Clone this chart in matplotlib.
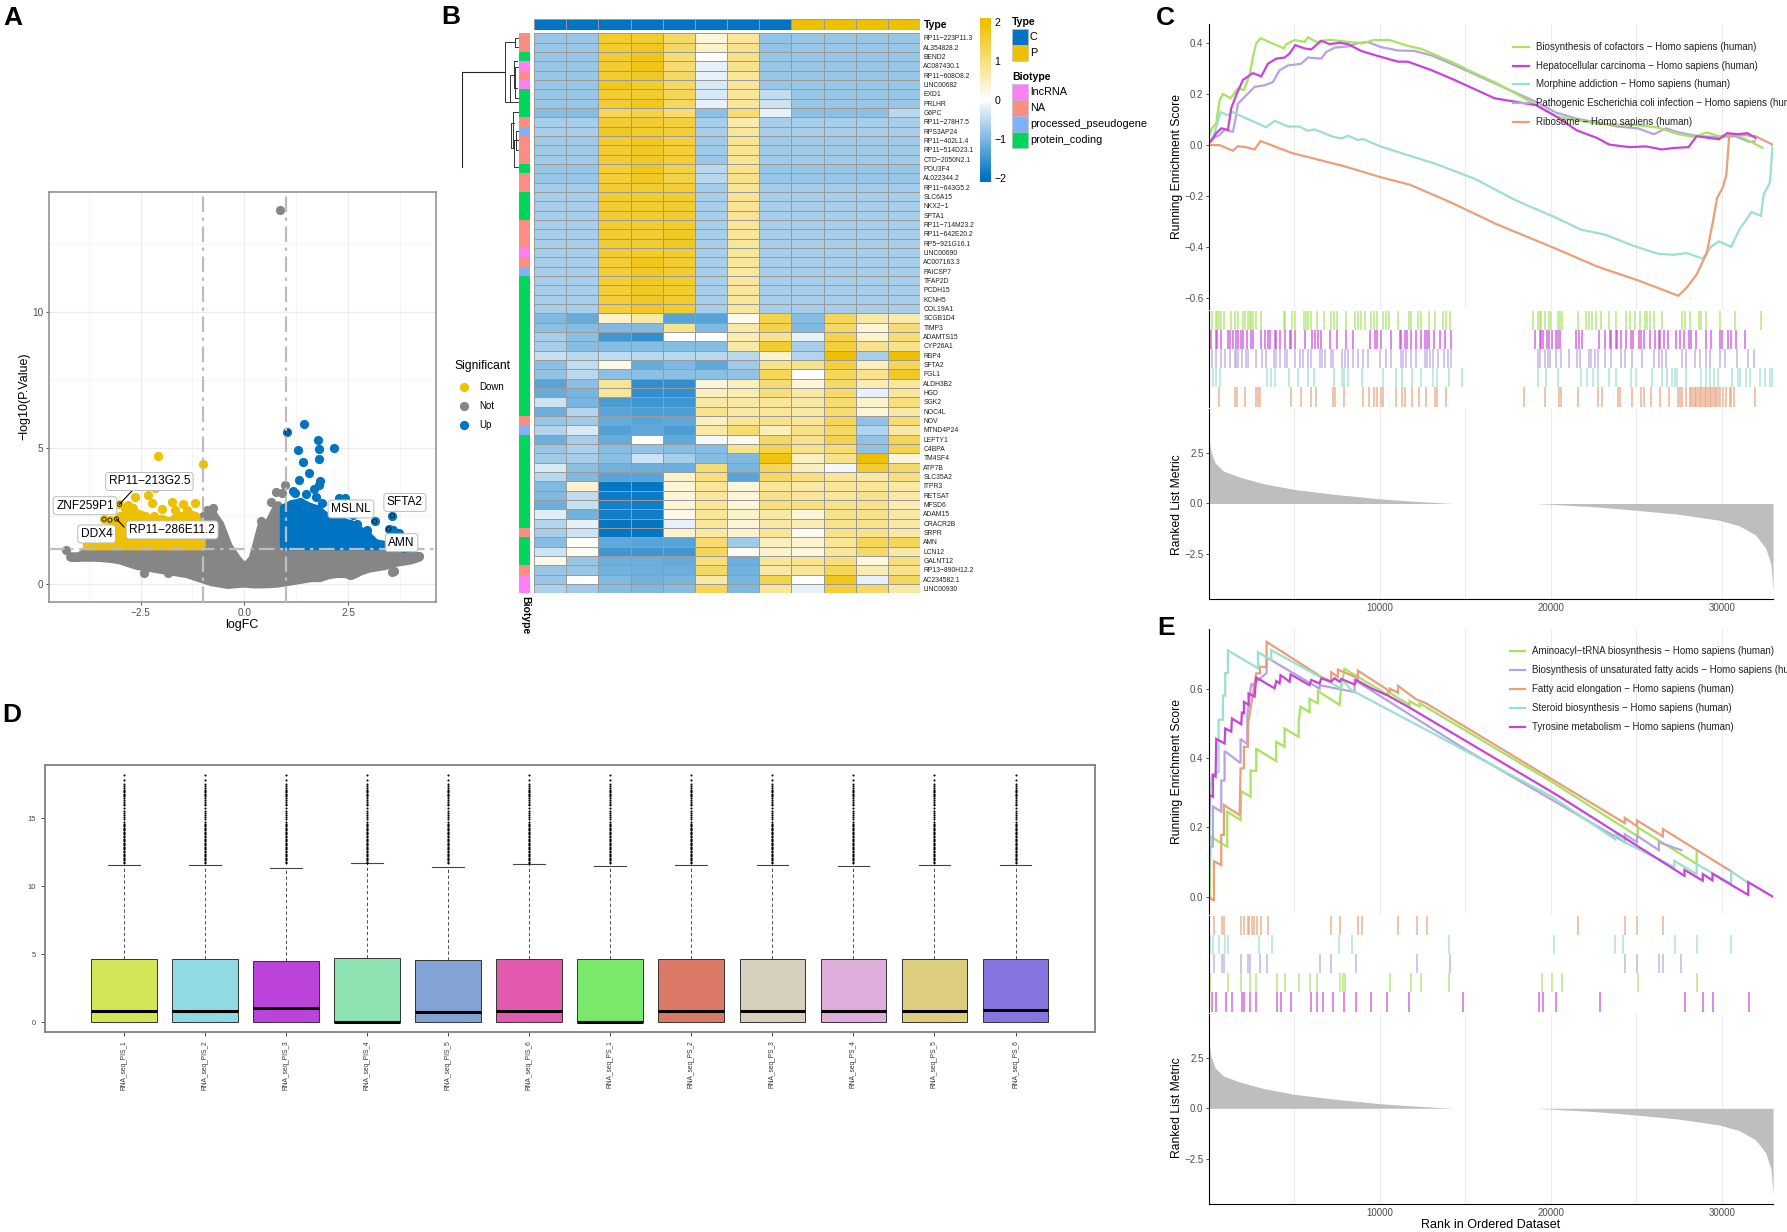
import numpy as np
import matplotlib
matplotlib.use('Agg')
import matplotlib.pyplot as plt
from matplotlib.colors import LinearSegmentedColormap, ListedColormap
from matplotlib.patches import Rectangle

plt.rcParams['font.family'] = ['Liberation Sans', 'DejaVu Sans']

W, H = 1787, 1232
JCO_GOLD, JCO_BLUE, JCO_GREY = '#EFC000', '#0073C2', '#868686'

# ---------- panel A: volcano ----------
# the packed clouds are kept as read envelopes, loose points one by one
grey_x = [-4.2, -4.0, -3.8, -3.6, -3.4, -3.2, -3.0, -2.8, -2.6, -2.4, -2.2, -2.0, -1.8, -1.6, -1.4, -1.2, -1.0, -0.8,
          -0.6, -0.4, -0.2, 0.0, 0.2, 0.4, 0.6, 0.8, 1.0, 1.2, 1.4, 1.6, 1.8, 2.0, 2.2, 2.4, 2.6, 2.8, 3.0, 3.2, 3.4,
          3.6, 3.8, 4.0, 4.2]
grey_low = [1.0, 1.0, 1.0, 1.0, 0.98, 0.95, 0.9, 0.8, 0.7, 0.65, 0.6, 0.55, 0.5, 0.45, 0.4, 0.3, 0.2, 0.1,
            0.05, 0.0, 0.03, 0.05, 0.02, 0.02, 0.03, 0.05, 0.1, 0.15, 0.2, 0.25, 0.25, 0.35, 0.4, 0.4, 0.35, 0.5, 0.6,
            0.65, 0.7, 0.8, 0.85, 0.9, 1.0]
grey_high = [1.02, 1.02, 1.2, 1.2, 1.2, 1.2, 1.2, 1.2, 1.2, 1.2, 1.2, 1.2, 1.2, 1.2, 1.2, 1.2, 2.5, 2.65,
             2.2, 1.4, 0.95, 0.6, 0.95, 2.1, 2.3, 2.9, 1.2, 1.2, 1.2, 1.2, 1.2, 1.2, 1.2, 1.2, 1.2, 1.2, 1.2,
             1.2, 1.2, 1.2, 1.1, 1.05, 1.03]
grey_pts_x = [0.86, -4.3, -2.41, 3.55, 3.6, 2.55, -1.83, 0.64, 0.76, 0.98, 0.92, 0.39, -0.75, -0.91, 4.2]
grey_pts_y = [13.74, 1.24, 0.39, 0.45, 0.47, 0.33, 0.39, 3.03, 3.37, 3.64, 3.33, 2.33, 2.78, 2.72, 1.03]

down_x = [-3.8, -3.6, -3.4, -3.2, -3.0, -2.8, -2.6, -2.4, -2.2, -2.0, -1.8, -1.6, -1.4, -1.2, -1.05]
down_high = [1.45, 1.6, 2.0, 2.1, 2.4, 2.6, 2.6, 2.5, 2.3, 2.4, 2.3, 2.5, 2.5, 2.5, 2.1]
down_pts_x = [-2.08, -1.0, -2.64, -2.32, -2.15, -2.23, -2.81, -2.68, -1.74, -1.47, -1.19, -2.17, -1.98, -1.66, -1.39,
              -1.27, -2.58, -3.0, -3.38, -3.24, -3.08, -3.01, -2.88]
down_pts_y = [4.72, 4.41, 3.19, 3.27, 3.52, 2.97, 2.9, 2.78, 3.03, 2.93, 2.97, 2.5, 2.75, 2.72, 2.72,
              2.54, 2.51, 2.51, 2.38, 2.35, 2.39, 2.93, 2.78]

up_x = [0.95, 1.15, 1.35, 1.55, 1.75, 1.95, 2.15, 2.35, 2.55, 2.75, 2.95, 3.15, 3.35]
up_high = [2.8, 2.95, 3.0, 2.85, 2.75, 2.5, 2.4, 2.3, 2.2, 2.0, 1.8, 1.5, 1.45]
up_pts_x = [1.45, 1.04, 1.78, 1.79, 1.29, 2.17, 1.8, 1.41, 1.55, 1.31, 1.82, 1.8, 1.69, 1.17, 1.22, 1.48, 1.73, 2.27,
            2.43, 1.88, 3.14, 3.57, 3.48, 3.59, 3.74, 2.63, 2.71, 2.95, 3.85]
up_pts_y = [5.89, 5.58, 5.28, 4.95, 4.91, 4.99, 4.58, 4.47, 4.09, 3.82, 3.79, 3.64, 3.5, 3.42, 3.36, 3.3, 3.19, 3.15,
            3.15, 2.97, 2.3, 2.51, 2.02, 1.99, 1.89, 2.54, 2.21, 1.99, 1.31]
low_cut = 1.42

ring_x = [-3.38, -3.24, -3.08, -3.01, 3.14, 3.57, 3.48, 1.04]
ring_y = [2.38, 2.35, 2.39, 2.93, 2.3, 2.51, 2.02, 5.58]
gene_names = ['RP11−213G2.5', 'ZNF259P1', 'DDX4', 'RP11−286E11.2', 'MSLNL', 'SFTA2', 'AMN']
gene_x = [-2.29, -3.84, -3.56, -1.74, 2.57, 3.87, 3.79]
gene_y = [3.77, 2.88, 1.84, 1.99, 2.76, 3.0, 1.52]

# ---------- panel B: heatmap ----------
row_names = ['RP11−223P11.3', 'AL354828.2', 'BEND2', 'AC087430.1', 'RP11−608O8.2', 'LINC00682', 'EXD1', 'PRLHR', 'G6PC',
             'RP11−278H7.5', 'RPS3AP24', 'RP11−402L1.4', 'RP11−514D23.1', 'CTD−2050N2.1', 'POU3F4', 'AL022344.2',
             'RP11−643G5.2', 'SLC6A15', 'NKX2−1', 'SPTA1', 'RP11−714M23.2', 'RP11−642E20.2', 'RP5−921G16.1',
             'LINC00690', 'AC007163.3', 'PAICSP7', 'TFAP2D', 'PCDH15', 'KCNH5', 'COL19A1', 'SCGB1D4', 'TIMP3',
             'ADAMTS15', 'CYP26A1', 'RBP4', 'SFTA2', 'FGL1', 'ALDH3B2', 'HGD', 'SGK2', 'NOC4L', 'NOV', 'MTND4P24',
             'LEFTY1', 'C4BPA', 'TM4SF4', 'ATP7B', 'SLC35A2', 'ITPR3', 'RETSAT', 'MFSD6', 'ADAM15', 'CRACR2B', 'SRPR',
             'AMN', 'LCN12', 'GALNT12', 'RP13−890H12.2', 'AC234582.1', 'LINC00930']
heat_values = [
    [-.8, -.8, 1.65, 1.65, 1.2, .3, .8, -.85, -.8, -.8, -.8, -.8],
    [-.8, -.8, 1.65, 1.75, 1.2, .4, .9, -.85, -.8, -.8, -.8, -.8],
    [-.8, -.8, 1.6, 1.8, 1.1, 0, .95, -.8, -.8, -.8, -.8, -.8],
    [-.8, -.8, 1.6, 1.8, 1.1, -.2, .9, -.8, -.8, -.8, -.8, -.8],
    [-.8, -.8, 1.65, 1.7, 1.2, -.2, .8, -.8, -.8, -.8, -.8, -.8],
    [-.8, -.8, 1.75, 1.65, 1.2, -.3, .8, -.8, -.8, -.8, -.8, -.8],
    [-.8, -.8, 1.6, 1.65, 1.3, -.3, .8, -.5, -.8, -.8, -.8, -.8],
    [-.8, -.8, 1.6, 1.75, 1.25, -.2, .8, -.4, -.8, -.8, -.8, -.8],
    [-.95, -.95, 1.3, 1.4, 1.1, -.9, 1.1, -.2, -.9, -.9, -.9, -.55],
    [-.7, -.7, 1.6, 1.6, 1.5, -.7, .65, -.7, -.7, -.7, -.7, -.7],
    [-.7, -.7, 1.7, 1.65, 1.55, -.7, .8, -.7, -.7, -.7, -.7, -.7],
    [-.75, -.75, 1.6, 1.7, 1.5, -.75, .85, -.75, -.75, -.75, -.75, -.75],
    [-.75, -.75, 1.6, 1.7, 1.55, -.75, .85, -.75, -.75, -.75, -.75, -.75],
    [-.75, -.75, 1.6, 1.7, 1.55, -.8, .85, -.75, -.75, -.75, -.75, -.75],
    [-.8, -.8, 1.55, 1.75, 1.45, -.55, .9, -.8, -.8, -.8, -.8, -.8],
    [-.8, -.8, 1.55, 1.7, 1.45, -.55, .9, -.8, -.8, -.8, -.8, -.8],
    [-.72, -.72, 1.6, 1.65, 1.55, -.72, .85, -.72, -.72, -.72, -.72, -.72],
    [-.7, -.7, 1.6, 1.65, 1.6, -.7, .85, -.7, -.7, -.7, -.7, -.7],
    [-.7, -.7, 1.6, 1.65, 1.6, -.7, .85, -.7, -.7, -.7, -.7, -.7],
    [-.7, -.7, 1.6, 1.65, 1.6, -.7, .85, -.7, -.7, -.7, -.7, -.7],
    [-.7, -.7, 1.6, 1.6, 1.65, -.7, .8, -.7, -.7, -.7, -.7, -.7],
    [-.7, -.7, 1.6, 1.6, 1.7, -.7, .8, -.7, -.7, -.7, -.7, -.7],
    [-.7, -.7, 1.6, 1.6, 1.7, -.7, .8, -.7, -.7, -.7, -.7, -.7],
    [-.7, -.7, 1.6, 1.65, 1.6, -.7, .75, -.7, -.7, -.7, -.7, -.7],
    [-.7, -.7, 1.55, 1.75, 1.6, -.7, .75, -.7, -.7, -.7, -.7, -.7],
    [-.7, -.7, 1.55, 1.7, 1.6, -.7, .75, -.7, -.7, -.7, -.7, -.7],
    [-.7, -.7, 1.55, 1.7, 1.65, -.7, .75, -.7, -.7, -.7, -.7, -.7],
    [-.7, -.7, 1.55, 1.7, 1.65, -.7, .75, -.7, -.7, -.7, -.7, -.7],
    [-.7, -.7, 1.55, 1.7, 1.65, -.7, .75, -.7, -.7, -.7, -.7, -.7],
    [-.7, -.7, 1.55, 1.7, 1.65, -.7, .75, -.7, -.7, -.7, -.7, -.7],
    [-1.0, -1.2, .4, .7, -1.3, -1.3, .15, 1.4, -.95, 1.3, .7, .65],
    [-.9, -.95, -1.0, -1.0, .9, -1.0, .7, 1.4, -1.0, 1.2, .3, 1.1],
    [-.7, -.9, -1.5, -1.6, 0, 0, .6, .9, -.2, 1.4, .4, 1.1],
    [-.7, -.95, -.95, -.95, -.95, -.95, .7, 1.65, -.7, 1.5, .9, .9],
    [-.45, -.55, -.5, -.55, -.55, -.55, -.55, .4, -.6, 2, -.7, 2],
    [-.9, -.5, .2, -1.2, -1, -1.25, -.75, .9, .9, 1.5, .5, 1.3],
    [-.85, -.55, -.9, -.9, -.9, -.9, -.85, 1.3, 0, 1.3, .9, 1.7],
    [-1.3, -.9, .85, -1.6, -1.6, .3, .5, 1.1, .3, 1.2, .6, .8],
    [-1.2, -1.05, .8, -1.6, -1.6, .5, .6, 1, .7, 1.15, -.2, .8],
    [-.4, -1.05, -1.4, -1.5, -1.5, .7, .7, .8, .7, 1.1, .4, 1.0],
    [-1.15, -.6, -1.3, -1.4, -1.4, .9, .7, .8, .7, 1.1, .3, .7],
    [-.8, -.75, -1.2, -1.3, -1.25, .5, .8, .9, .8, 1.3, -.85, 1.1],
    [-.6, -.3, -1.35, -1.25, -1.4, .7, 1.1, .5, .9, 1.2, -.6, .7],
    [-1.15, -.7, -1.2, 0, -1.25, -.1, .15, 1.2, .9, 1.4, -.85, 1.3],
    [-.8, -.65, -.95, -.85, -.95, -.95, .9, 1.4, .9, 1.1, -.85, 1.4],
    [-.75, -.7, -.9, -.4, -.7, -.95, -1, 1.9, .5, .9, 2, .3],
    [-.3, -.9, -1.1, -1.15, -1.15, 1.1, -1.05, 1.3, .5, -.1, 1.6, 1.2],
    [-.55, -1, -1.3, -1.3, .4, 1, -1.3, 1.2, 1.0, .8, .7, 1],
    [-1, .4, -1.95, -1.95, .3, .8, .3, .8, .7, .8, .8, .7],
    [-1, -.5, -1.9, -1.9, .3, .8, .3, .9, .8, .8, .9, .7],
    [-1.15, -.45, -1.8, -1.85, .3, .8, .3, 1, 1, .9, .9, .6],
    [-.25, -1.1, -1.85, -1.85, .2, .8, .4, .7, .3, .9, .9, .7],
    [-.6, -.2, -1.95, -1.95, -.2, .8, .3, .7, .6, .9, .9, .7],
    [-.7, -.4, -1.95, -1.95, .4, .7, .4, .8, .1, .9, .9, .7],
    [-.95, .03, -1.25, -1.3, -1.3, 1.1, -.75, .5, .4, .8, 1.3, 1.3],
    [-.4, .1, -1.5, -1.5, -1.5, 1.3, .1, .4, .25, .8, 1.2, .7],
    [.2, -.8, -1.15, -1.15, -1.2, 1, -1.15, .8, .9, 1, .25, 1],
    [-.8, -.8, -1.1, -1.15, -1.15, 1.2, -1.1, .7, .8, 1.3, .6, .9],
    [-.8, 0, -1, -1.1, -1.05, .7, -1.05, 1.4, 0, 1.8, -.2, 1.3],
    [-.65, -.75, -.95, -1, -.95, 1.3, -1, .8, -.2, 1.5, 1.2, .7],
]
col_types = ['C', 'C', 'C', 'C', 'C', 'C', 'C', 'C', 'P', 'P', 'P', 'P']
type_names = ['C', 'P']
type_colors = ['#0073C2', '#EFC000']
row_biotypes = ['NA', 'NA', 'pc', 'lnc', 'NA', 'lnc', 'pc', 'pc', 'pc', 'NA', 'pp', 'NA', 'NA', 'NA', 'pc', 'NA', 'NA',
                'pc', 'pc', 'pc', 'NA', 'NA', 'NA', 'lnc', 'NA', 'pp', 'pc', 'pc', 'pc', 'pc',
                'pc', 'pc', 'pc', 'pc', 'pc', 'pc', 'pc', 'pc', 'pc', 'pc', 'pc', 'NA', 'pp', 'pc', 'pc', 'pc', 'pc',
                'pc', 'pc', 'pc', 'pc', 'pc', 'pc', 'NA', 'pc', 'pc', 'pc', 'NA', 'lnc', 'lnc']
biotype_keys = ['lnc', 'NA', 'pp', 'pc']
biotype_names = ['lncRNA', 'NA', 'processed_pseudogene', 'protein_coding']
biotype_colors = ['#FB80F5', '#FA8E82', '#80B1FF', '#00D65C']
# height, upper row, lower row, height of upper child, height of lower child
dend_merges = [(0.07, .47, 1.47, 0, 0), (0.244, .97, 7.4, .07, .157), (0.157, 4.47, 7.4, .1, .01),
               (0.1, 2.97, 5.9, .05, .05), (0.07, 3.58, 6.97, .02, .02), (0.116, 8.47, 12.3, 0, .09),
               (0.14, 9.65, 12.3, .1, .09), (0.09, 11.4, 14.3, .03, .03), (0.06, 10.5, 12.5, 0, .02)]

# ---------- panel D: boxes ----------
box_names = ['RNA_seq_PIS_1', 'RNA_seq_PIS_2', 'RNA_seq_PIS_3', 'RNA_seq_PIS_4', 'RNA_seq_PIS_5', 'RNA_seq_PIS_6',
             'RNA_seq_PS_1', 'RNA_seq_PS_2', 'RNA_seq_PS_3', 'RNA_seq_PS_4', 'RNA_seq_PS_5', 'RNA_seq_PS_6']
box_median = [.85, .85, 1.05, .02, .75, .85, .02, .85, .85, .85, .85, .93]
box_q3 = [4.62, 4.62, 4.5, 4.72, 4.55, 4.65, 4.62, 4.62, 4.62, 4.62, 4.62, 4.62]
box_whisk = [11.55, 11.55, 11.3, 11.68, 11.4, 11.6, 11.5, 11.55, 11.58, 11.5, 11.52, 11.58]
box_colors = ['#D4E657', '#8FDAE3', '#BC42DC', '#8CE2B0', '#82A3D3', '#E25AAE', '#7AE86A', '#DB7967', '#D8D0BE',
              '#DFADDA', '#DDCE7F', '#8675DF']
box_outliers = [11.7, 11.8, 11.9, 12.0, 12.1, 12.2, 12.3, 12.4, 12.5, 12.6, 12.7, 12.8, 12.9, 13.0, 13.1, 13.2, 13.3,
                13.4, 13.5, 13.6, 13.7, 13.8, 13.9, 14.0, 14.1, 14.2, 14.3, 14.4, 14.5, 14.6, 14.75, 14.9, 15.05, 15.2,
                15.4, 15.55, 15.75, 15.95, 16.05, 16.2, 16.3, 16.5, 16.6, 16.7, 16.8, 16.9, 17.0, 17.1, 17.2, 17.35,
                17.5, 17.8, 18.15]

# ---------- panel C: GSEA curves ----------
c_names = ['Biosynthesis of cofactors − Homo sapiens (human)', 'Hepatocellular carcinoma − Homo sapiens (human)',
           'Morphine addiction − Homo sapiens (human)', 'Pathogenic Escherichia coli infection − Homo sapiens (human)',
           'Ribosome − Homo sapiens (human)']
c_green_x = [0, 195, 448, 643, 838, 1286, 1715, 2066, 2397, 2592, 2787, 3040, 4403, 4540, 5027, 5612, 5807, 6294, 7073,
             8144, 8924, 9703, 10580, 11651, 12431, 13405, 14379, 15353, 16717, 17957, 20333, 22708, 25083, 26270,
             27458, 28409, 29121, 29834, 30784, 31734, 32375]
c_green_y = [.033, .066, .086, .177, .201, .184, .223, .216, .275, .347, .40, .42, .38, .397, .413, .406, .424, .406,
             .414, .406, .40, .413, .413, .39, .378, .350, .322, .289, .247, .203, .112, .084, .078, .069, .043, .032,
             .05, .035, .043, .012, -.011]
c_magenta_x = [0, 195, 448, 740, 1130, 1325, 1617, 2007, 2299, 2591, 3078, 3468, 3955, 4442, 4734, 5065, 5612, 6000,
               6584, 7071, 7656, 8144, 8924, 9703, 11065, 11651, 13014, 14379, 16717, 19145, 20333, 21520, 22708,
               23420, 24608, 25558, 26508, 27221, 28052, 28527, 29834, 30309, 30903, 31496, 31971]
c_magenta_y = [.007, .02, .047, .066, .06, .145, .197, .256, .27, .283, .27, .32, .34, .344, .36, .393, .38, .376,
               .41, .397, .402, .397, .37, .354, .328, .328, .295, .256, .184, .157, .112, .058, .028, .002, -.008,
               -.005, -.017, -.011, -.008, .035, .023, .047, .043, .047, .028]
c_purple_x = [0, 253, 643, 935, 1422, 1559, 1714, 2201, 2688, 3273, 3760, 4149, 4636, 5416, 5805, 6584, 6876, 7363,
              8144, 8729, 9312, 10091, 11065, 12039, 13014, 14379, 16717, 19145, 20333, 21520, 22708, 23895, 25083,
              26032, 26745, 27458, 28646, 29834, 30784, 31615, 31924]
c_purple_y = [.007, .027, .04, .06, .053, .098, .163, .196, .229, .235, .248, .294, .313, .32, .344, .34, .366, .383,
              .388, .401, .405, .385, .372, .37, .353, .314, .243, .17, .127, .104, .089, .073, .066, .043, .066, .05,
              .035, .032, .035, .012, .015]
c_teal_x = [0, 312, 701, 1130, 1422, 1714, 3370, 3857, 4636, 5318, 5805, 6195, 7266, 7753, 8144, 8729, 9019, 10091,
            12234, 13207, 15582, 17957, 20333, 21758, 23183, 24846, 26270, 27221, 27933, 28884, 29359, 29834, 30546,
            31021, 31734, 32280, 32447, 32803, 32969]
c_teal_y = [.007, .04, .13, .117, .13, .12, .07, .096, .073, .073, .056, .062, .033, .026, .037, .02, .024, -.006,
            -.052, -.072, -.133, -.217, -.286, -.332, -.352, -.396, -.427, -.431, -.424, -.446, -.40, -.378, -.40,
            -.332, -.263, -.278, -.194, -.148, 0]
c_orange_x = [0, 643, 1422, 1714, 2104, 2688, 3040, 4831, 6390, 7981, 10000, 11781, 14157, 16770, 20333, 22708, 25083,
              27458, 27933, 28527, 29121, 29477, 29715, 30071, 30261, 30427, 30784, 31971, 32969]
c_orange_y = [0, 0, -.022, -.004, -.007, -.017, .016, -.03, -.057, -.084, -.125, -.156, -.225, -.309, -.408, -.477,
              -.531, -.592, -.561, -.508, -.424, -.301, -.209, -.164, -.118, .035, .043, .035, .002]

c_rug_green = [195, 448, 507, 584, 701, 896, 1325, 1520, 1714, 2007, 2104, 2299, 2396, 2494, 2591, 2786, 3039, 4383,
               4480, 4870, 5065, 5571, 5688, 5805, 6000, 6350, 6740, 7130, 7325, 7500, 8045, 8571, 8727, 8922, 9117,
               9506, 9662, 9857, 10188, 10383, 10519, 11065, 11688, 11805, 12234, 12429, 12858, 13208, 13695, 13890,
               14084, 18955, 19248, 19345, 19443, 19637, 19891, 20027, 20417, 20553, 20631, 21585, 22072, 22228, 22423,
               22657, 22910, 23378, 23825, 24371, 24644, 24897, 25228, 25481, 25618, 25813, 26007, 26514, 27682, 27858,
               28150, 28637, 28793, 29085, 29864, 30780, 32300]
c_rug_magenta = [156, 409, 507, 740, 1130, 1227, 1422, 1617, 1714, 1909, 2007, 2260, 2494, 2591, 3078, 3273, 3468,
                 3565, 3857, 3954, 4149, 4480, 4734, 4831, 5026, 5649, 6039, 6195, 6390, 6584, 7071, 7519, 8045, 8435,
                 9409, 9740, 9857, 10091, 10636, 11162, 11260, 11455, 11610, 11844, 12136, 12390, 12624, 12780, 12857,
                 13169, 13500, 13831, 14143, 19092, 19345, 19443, 19540, 19774, 19891, 20085, 20280, 20417, 20553,
                 21488, 21644, 21838, 22793, 23183, 23436, 23534, 23787, 23864, 24117, 24371, 24702, 24799, 25150,
                 25287, 25423, 25812, 26104, 26319, 26397, 26592, 26845, 27332, 27527, 27761, 28053, 28209, 28462,
                 29085, 29339, 29864, 30020, 30351, 30546, 30799, 31364]
c_rug_purple = [195, 448, 701, 935, 1227, 1520, 1617, 1714, 1948, 2201, 2299, 2786, 3117, 3370, 3818, 3955, 4149, 4442,
                4597, 5065, 5357, 5513, 5805, 5961, 6487, 6623, 6779, 7130, 7266, 7792, 7948, 8143, 8435, 8727, 9019,
                9312, 9994, 10383, 10675, 11221, 11357, 11552, 11805, 12136, 12624, 12780, 12916, 13111, 13403, 13753,
                13987, 14143, 19248, 19345, 19637, 19832, 19968, 20280, 20572, 21040, 21527, 21722, 22228, 22365,
                22559, 22754, 23183, 23534, 24117, 24312, 24760, 25345, 26007, 26299, 26494, 26748, 27663, 27877,
                28442, 28735, 29085, 29319, 29864, 30157, 30877, 31520, 31851]
c_rug_teal = [253, 409, 643, 3409, 3623, 3896, 4714, 5221, 5805, 6136, 7305, 7792, 7909, 8143, 8961, 10208, 10967,
              11299, 11883, 12390, 13110, 13344, 14026, 14805, 19248, 19696, 20417, 21780, 22131, 22462, 22754, 23377,
              23787, 24702, 24955, 25929, 26514, 26806, 27098, 27234, 27390, 27916, 28793, 29085, 29280, 29514, 29767,
              30604, 30936, 31033, 31384, 31657, 32241, 32494, 32786, 32942]
c_rug_orange = [584, 1520, 1675, 2104, 2786, 2883, 3000, 4792, 5377, 6000, 6292, 7266, 7402, 7909, 9019, 9351, 9643,
                9857, 10090, 10188, 10967, 11318, 11454, 11883, 12273, 12721, 13208, 13364, 13890, 18410, 19637, 20475,
                20572, 21566, 22754, 23007, 23923, 24020, 24741, 25287, 25423, 25871, 26397, 26904, 27429, 27566,
                27683, 27916, 28111, 28209, 28306, 28404, 28501, 28598, 28696, 28793, 28891, 28988, 29085, 29183,
                29280, 29378, 29475, 29573, 29670, 29767, 29864, 30059, 30254, 30449, 30546, 30702, 31949]

# ---------- panel E: GSEA curves ----------
e_names = ['Aminoacyl−tRNA biosynthesis − Homo sapiens (human)',
           'Biosynthesis of unsaturated fatty acids − Homo sapiens (human)',
           'Fatty acid elongation − Homo sapiens (human)', 'Steroid biosynthesis − Homo sapiens (human)',
           'Tyrosine metabolism − Homo sapiens (human)']
e_green_x = [0, 58, 117, 1091, 1091, 1870, 1909, 2455, 2455, 2786, 2786, 3954, 3954, 4441, 4441, 5260, 5260, 5376, 5902,
             5902, 6390, 6390, 7656, 7753, 7948, 10480, 10480, 11747, 11747, 12331, 12331, 20095, 25083, 25083, 28527,
             28527]
e_green_y = [0, 0, .173, .144, .245, .221, .304, .288, .363, .363, .426, .391, .447, .432, .485, .461, .505, .548, .532,
             .57, .558, .593, .553, .606, .657, .582, .591, .553, .564, .548, .558, .33, .174, .2, .094, .128]
e_purple_x = [0, 58, 253, 253, 740, 740, 935, 935, 1870, 1870, 2260, 2260, 2494, 2650, 2650, 3390, 3390, 6487, 6487,
              8532, 8532, 15000, 24323, 24323, 25035, 25035, 26318, 26318, 27625]
e_purple_y = [0, .14, .145, .26, .245, .335, .335, .42, .385, .455, .44, .52, .615, .605, .615, .645, .69, .60, .61,
              .59, .625, .425, .157, .18, .157, .176, .134, .157, .134]
e_orange_x = [0, 253, 312, 312, 740, 740, 896, 896, 1812, 1870, 2065, 2065, 2299, 2299, 2786, 3000, 3000, 3390, 3390,
              6584, 7168, 7168, 7558, 7558, 8727, 8727, 10600, 10600, 11069, 11069, 12138, 12700, 24323, 24323, 25035,
              25035, 26555, 26555, 30546]
e_orange_y = [0, -.01, -.01, .102, .091, .178, .178, .264, .235, .37, .37, .432, .432, .495, .644, .644, .663, .663,
              .735, .634, .62, .647, .634, .655, .63, .652, .592, .60, .588, .608, .569, .558, .212, .227, .203, .22,
              .174, .195, .073]
e_teal_x = [0, 100, 195, 584, 584, 838, 838, 974, 974, 1130, 1130, 2883, 2883, 3660, 3660, 7753, 7753, 8338, 20000,
            23777, 23777, 24323, 27221, 27221, 28527, 28527, 30546, 30546, 31615]
e_teal_y = [0, .30, .35, .36, .51, .51, .58, .58, .645, .645, .71, .659, .705, .683, .711, .60, .63, .596, .29, .165,
            .18, .157, .085, .103, .065, .094, .037, .073, .037]
e_magenta_x = [0, 58, 253, 253, 409, 448, 935, 974, 1325, 1364, 1909, 1948, 2065, 2065, 2338, 2338, 2688, 2786, 3857,
               3954, 4149, 4208, 4734, 4792, 5902, 6000, 6487, 6584, 7168, 7363, 7656, 7753, 8532, 8630, 9506, 10480,
               11650, 20333, 22898, 27815, 27815, 28884, 28884, 29453, 29453, 31544, 31544, 32969]
e_magenta_y = [.206, .293, .288, .351, .346, .455, .442, .485, .476, .514, .497, .531, .529, .562, .553, .586, .577,
               .632, .601, .622, .615, .639, .62, .641, .61, .625, .615, .63, .62, .63, .62, .628, .612, .625, .601,
               .58, .548, .294, .214, .06, .077, .046, .065, .047, .066, .005, .042, 0]

e_rug_orange = [309, 760, 926, 1900, 2043, 2280, 2375, 2518, 2660, 2803, 3040, 3444, 7126, 7672, 8741, 8979, 11093,
                12209, 12755, 21568, 24323, 25035, 26555]
e_rug_teal = [95, 285, 618, 950, 1140, 2945, 3682, 7648, 8385, 14038, 20190, 23777, 24204, 27268, 28575, 30546]
e_rug_purple = [47, 309, 807, 926, 1900, 2304, 2446, 2993, 3420, 6508, 7126, 8622, 12209, 14109, 24347, 25035, 26318,
                26532, 27625]
e_rug_green = [95, 1116, 1876, 2399, 2779, 3990, 4465, 5273, 5914, 6365, 7696, 7838, 7981, 10594, 11805, 12399, 14062,
               19501, 20047, 20641, 25107, 28527]
e_rug_magenta = [47, 214, 451, 1045, 1354, 1971, 2090, 2446, 2779, 3990, 4252, 4846, 6010, 6365, 6698, 7245, 7933, 8599,
                 9501, 10451, 11710, 14893, 19311, 19549, 20333, 22898, 27838, 28907, 29477, 31567]

metric_rank = [0, 142, 380, 855, 1805, 3230, 5012, 7268, 10000, 12020, 14275, 19145, 22708, 25083, 27458, 29834, 31021,
               31971, 32565, 32874, 32993]
metric_value = [3.3, 2.55, 2.0, 1.6, 1.3, .97, .69, .46, .23, .11, 0, 0, -.17, -.34, -.53, -.82, -1.1, -1.55, -2.2, -3.0,
                -4.3]

GREEN, MAGENTA, TEAL, PURPLE, ORANGE = '#A8E35F', '#C844D8', '#9BDFCF', '#B8A2E0', '#E8A07A'

fig = plt.figure(figsize=(W / 100, H / 100), dpi=100)


def px_axes(left, top, right, bottom, **kw):
    return fig.add_axes([left / W, 1 - bottom / H, (right - left) / W, (bottom - top) / H], **kw)


# overlay in pixels, only for legends and panel letters
over = fig.add_axes([0, 0, 1, 1], zorder=20)
over.set_xlim(0, W)
over.set_ylim(H, 0)
over.axis('off')

for letter, lx, ly in [('A', 3, 25), ('B', 441, 24), ('C', 1156, 25), ('D', 2, 722), ('E', 1157, 635)]:
    over.text(lx, ly, letter, fontsize=19, fontweight='bold', va='baseline', ha='left')

# panel A
ax = px_axes(48.7, 192, 436, 602)
ax.set_xlim(-4.715, 4.62)
ax.set_ylim(-0.66, 14.41)
ax.set_axisbelow(True)
ax.set_xticks([-2.5, 0, 2.5])
ax.set_xticklabels(['−2.5', '0.0', '2.5'])
ax.set_yticks([0, 5, 10])
ax.set_xticks([-3.75, -1.25, 1.25, 3.75], minor=True)
ax.set_yticks([2.5, 7.5, 12.5], minor=True)
ax.grid(which='major', color='#EBEBEB', lw=0.8)
ax.grid(which='minor', color='#F2F2F2', lw=0.5)
ax.tick_params(which='minor', length=0)
ax.tick_params(which='major', length=2.5, width=0.6, color='#333333', labelcolor='#4D4D4D', labelsize=7.2, pad=1.5)
for sp in ax.spines.values():
    sp.set_color('#8C8C8C')
    sp.set_linewidth(1.1)
msize = 44
stroke = 6.4
ax.fill_between(grey_x, grey_low, grey_high, color=JCO_GREY, lw=stroke, zorder=2)
ax.scatter(grey_pts_x, grey_pts_y, s=msize, c=JCO_GREY, lw=0, zorder=2)
ax.fill_between(down_x, low_cut, down_high, color=JCO_GOLD, lw=stroke, zorder=3)
ax.scatter(down_x, down_high, s=msize, c=JCO_GOLD, lw=0, zorder=3)
ax.scatter(down_pts_x, down_pts_y, s=msize, c=JCO_GOLD, lw=0, zorder=3)
ax.fill_between(up_x, low_cut, up_high, color=JCO_BLUE, lw=stroke, zorder=3)
ax.scatter(up_x, up_high, s=msize, c=JCO_BLUE, lw=0, zorder=3)
ax.scatter(up_pts_x, up_pts_y, s=msize, c=JCO_BLUE, lw=0, zorder=3)
ax.scatter(ring_x, ring_y, s=9, facecolors='none', edgecolors='#222222', lw=0.7, zorder=4)
dash = (0, (7, 2.5, 1.5, 2.5))
ax.axvline(-1, color='#BDBDBD', lw=1.6, ls=dash, zorder=5)
ax.axvline(1, color='#BDBDBD', lw=1.6, ls=dash, zorder=5)
ax.axhline(1.3, color='#BDBDBD', lw=1.6, ls=dash, zorder=5)
ax.plot([-2.71, -3.01], [3.42, 2.93], color='black', lw=0.8, zorder=6)
ax.plot([-2.9, -3.08], [2.1, 2.39], color='black', lw=0.8, zorder=6)
for name, gx, gy in zip(gene_names, gene_x, gene_y):
    ax.text(gx, gy, name, fontsize=8.6, ha='center', va='center', zorder=7,
            bbox=dict(boxstyle='round,pad=0.25', fc='white', ec='#BBBBBB', lw=0.7))
over.text(242, 625, 'logFC', fontsize=9, ha='center', va='center')
over.text(24, 396.7, '−log10(P.Value)', fontsize=9, rotation=90, ha='center', va='center')
over.text(454, 366, 'Significant', fontsize=8.7, va='center')
for lab, col, ly in [('Down', JCO_GOLD, 387), ('Not', JCO_GREY, 406), ('Up', JCO_BLUE, 425)]:
    over.scatter([464], [ly], s=44, c=col, lw=0)
    over.text(479, ly, lab, fontsize=7, va='center')

# panel B
cmap = LinearSegmentedColormap.from_list('jco', [JCO_BLUE, '#FFFFFF', JCO_GOLD])
ax = px_axes(534, 33.3, 920, 593.3)
mat = np.array(heat_values)
ax.pcolormesh(np.arange(mat.shape[1] + 1), np.arange(mat.shape[0] + 1), mat, cmap=cmap, vmin=-2, vmax=2,
              edgecolors='#9A9A9A', linewidth=0.5)
ax.set_ylim(mat.shape[0], 0)
ax.set_xticks([])
ax.yaxis.tick_right()
ax.set_yticks(np.arange(mat.shape[0]) + 0.5)
ax.set_yticklabels(row_names)
ax.tick_params(axis='y', length=0, labelsize=4.9, pad=2.5, labelcolor='#222222')
for sp in ax.spines.values():
    sp.set_visible(False)

ax = px_axes(534, 19.3, 920, 30)
ax.pcolormesh([[type_names.index(t) for t in col_types]], cmap=ListedColormap(type_colors), vmin=0, vmax=1,
              edgecolors='#9A9A9A', linewidth=0.4)
ax.axis('off')
over.text(923.5, 24.7, 'Type', fontsize=7.5, fontweight='bold', va='center')

ax = px_axes(519.4, 33.3, 530.4, 593.3)
ax.pcolormesh([[biotype_keys.index(b)] for b in row_biotypes], cmap=ListedColormap(biotype_colors), vmin=0, vmax=3)
ax.set_ylim(len(row_biotypes), 0)
ax.axis('off')
over.text(525, 596, 'Biotype', fontsize=7.5, fontweight='bold', rotation=-90, ha='center', va='top')

ax = px_axes(461.7, 33.3, 519.4, 593.3)
ax.set_xlim(1, 0)
ax.set_ylim(len(row_biotypes), 0)
ax.axis('off')
ax.patch.set_alpha(0)
ax.plot([1, 1], [4.18, 14.3], color='#222222', lw=0.8)
ax.plot([1, 0.244], [4.18, 4.18], color='#222222', lw=0.8)
for mh, r0, r1, h0, h1 in dend_merges:
    ax.plot([h0, mh, mh, h1], [r0, r0, r1, r1], color='#333333', lw=0.7)

ax = px_axes(980.4, 18.3, 991, 181.7)
ax.imshow(np.linspace(2.09, -2.1, 200)[:, None], aspect='auto', cmap=cmap, vmin=-2, vmax=2, extent=[0, 1, -2.1, 2.09])
ax.set_xticks([])
ax.yaxis.tick_right()
ax.set_yticks([-2, -1, 0, 1, 2])
ax.set_yticklabels(['−2', '−1', '0', '1', '2'])
ax.tick_params(axis='y', length=0, labelsize=7.6, pad=2.5)
for sp in ax.spines.values():
    sp.set_visible(False)

over.text(1012, 22, 'Type', fontsize=7.6, fontweight='bold', va='center')
for k, (nm, col) in enumerate(zip(type_names, type_colors)):
    over.add_patch(Rectangle((1012, 29.3 + 15.9 * k), 15.7, 15.9, fc=col, ec='#BBBBBB', lw=0.4))
    over.text(1030, 37.2 + 15.9 * k, nm, fontsize=7.8, va='center')
over.text(1012, 77, 'Biotype', fontsize=7.6, fontweight='bold', va='center')
for k, (nm, col) in enumerate(zip(biotype_names, biotype_colors)):
    over.add_patch(Rectangle((1012, 84.3 + 15.8 * k), 15.7, 15.8, fc=col, ec='#BBBBBB', lw=0.4))
    over.text(1030, 92.2 + 15.8 * k, nm, fontsize=7.8, va='center')

# panel D
ax = px_axes(44.5, 765, 1095, 1032)
stats = []
for med, q3, whi in zip(box_median, box_q3, box_whisk):
    stats.append(dict(med=med, q1=0, q3=q3, whislo=0, whishi=whi, fliers=box_outliers))
parts = ax.bxp(stats, positions=range(1, 13), widths=0.81, capwidths=0.39, patch_artist=True,
               medianprops=dict(color='black', lw=2.2, solid_capstyle='butt'),
               boxprops=dict(lw=0.7, edgecolor='#333333'),
               whiskerprops=dict(color='#333333', lw=0.6, ls=(0, (4, 3))),
               capprops=dict(color='#444444', lw=0.8),
               flierprops=dict(marker='o', ms=1.5, mfc='black', mec='black', mew=0))
for patch, col in zip(parts['boxes'], box_colors):
    patch.set_facecolor(col)
ax.set_xlim(0.021, 12.98)
ax.set_ylim(-0.71, 18.9)
ax.set_yticks([0, 5, 10, 15])
ax.set_xticks(range(1, 13))
ax.set_xticklabels(box_names, rotation=90)
ax.tick_params(axis='x', length=3, width=0.5, labelsize=4.8, pad=3, labelcolor='#333333')
ax.tick_params(axis='y', length=3, width=0.5, labelsize=5.4, pad=3, labelcolor='#444444')
for sp in ax.spines.values():
    sp.set_color('#808080')
    sp.set_linewidth(1.3)


def gsea_panel(top_box, rug_box, metric_box, top_lim, top_ticks, curves, rugs):
    ax1 = px_axes(*top_box)
    for cx, cy, col in curves:
        ax1.plot(cx, cy, color=col, lw=1.6, solid_joinstyle='miter')
    ax1.set_ylim(*top_lim)
    ax1.set_yticks(top_ticks)
    ax2 = px_axes(*rug_box)
    n = len(rugs)
    for k, (ranks, col) in enumerate(rugs):
        ax2.vlines(ranks, n - k - 1, n - k, color=col, lw=1.25, alpha=0.7)
    ax2.set_ylim(0, n)
    ax2.set_yticks([])
    ax3 = px_axes(*metric_box)
    ax3.fill_between(metric_rank, metric_value, 0, color='#BEBEBE', lw=0)
    ax3.set_ylim(-4.7, 4.65)
    ax3.set_yticks([-2.5, 0, 2.5])
    ax3.set_yticklabels(['−2.5', '0.0', '2.5'])
    for a in (ax1, ax2, ax3):
        a.set_xlim(24, 32990)
        a.set_xticks([])
        a.spines['top'].set_visible(False)
        a.spines['right'].set_visible(False)
        a.spines['left'].set_linewidth(0.8)
        a.set_axisbelow(True)
        a.tick_params(axis='y', length=2.5, width=0.6, labelsize=7, pad=1.5, labelcolor='#4D4D4D', color='#333333')
    ax1.spines['bottom'].set_visible(False)
    ax2.spines['bottom'].set_visible(False)
    for a in (ax1, ax3):
        for gx in [5000, 10000, 15000, 20000, 25000, 30000]:
            a.axvline(gx, color='#EBEBEB', lw=0.7, zorder=0)
    ax3.spines['bottom'].set_linewidth(0.8)
    ax3.set_xticks([10000, 20000, 30000])
    ax3.set_xticklabels(['10000', '20000', '30000'])
    ax3.tick_params(axis='x', length=0, labelsize=7, pad=3, labelcolor='#4D4D4D')


gsea_panel((1209, 24, 1773, 309), (1209, 311, 1773, 406.6), (1209, 409, 1773, 599), (-0.644, 0.476),
           [-0.6, -0.4, -0.2, 0, 0.2, 0.4],
           [(c_purple_x, c_purple_y, PURPLE), (c_green_x, c_green_y, GREEN), (c_teal_x, c_teal_y, TEAL),
            (c_orange_x, c_orange_y, ORANGE), (c_magenta_x, c_magenta_y, MAGENTA)],
           [(c_rug_green, GREEN), (c_rug_magenta, MAGENTA), (c_rug_purple, PURPLE), (c_rug_teal, TEAL),
            (c_rug_orange, ORANGE)])
gsea_panel((1209, 629, 1773, 913.6), (1209, 915.6, 1773, 1011.6), (1209, 1014, 1773, 1203.6), (-0.049, 0.772),
           [0, 0.2, 0.4, 0.6],
           [(e_green_x, e_green_y, GREEN), (e_purple_x, e_purple_y, PURPLE), (e_orange_x, e_orange_y, ORANGE),
            (e_teal_x, e_teal_y, TEAL), (e_magenta_x, e_magenta_y, MAGENTA)],
           [(e_rug_orange, ORANGE), (e_rug_teal, TEAL), (e_rug_purple, PURPLE), (e_rug_green, GREEN),
            (e_rug_magenta, MAGENTA)])

for ylab, ly in [('Running Enrichment Score', 166.6), ('Ranked List Metric', 505), ('Running Enrichment Score', 771),
                 ('Ranked List Metric', 1108)]:
    over.text(1177, ly, ylab, fontsize=8.7, rotation=90, ha='center', va='center')
over.text(1490.6, 1225, 'Rank in Ordered Dataset', fontsize=9, ha='center', va='center')

for nm, col, ly in zip(c_names, [GREEN, MAGENTA, TEAL, PURPLE, ORANGE], [46.7, 65.8, 84.4, 103, 122]):
    over.plot([1513, 1529], [ly, ly], color=col, lw=1.6)
    over.text(1536, ly, nm, fontsize=7, va='center', color='#222222')
for nm, col, ly in zip(e_names, [GREEN, PURPLE, ORANGE, TEAL, MAGENTA], [651.3, 670, 689, 708, 726.7]):
    over.plot([1510, 1525], [ly, ly], color=col, lw=1.6)
    over.text(1532.5, ly, nm, fontsize=7, va='center', color='#222222')

fig.savefig('out.png', dpi=100)
